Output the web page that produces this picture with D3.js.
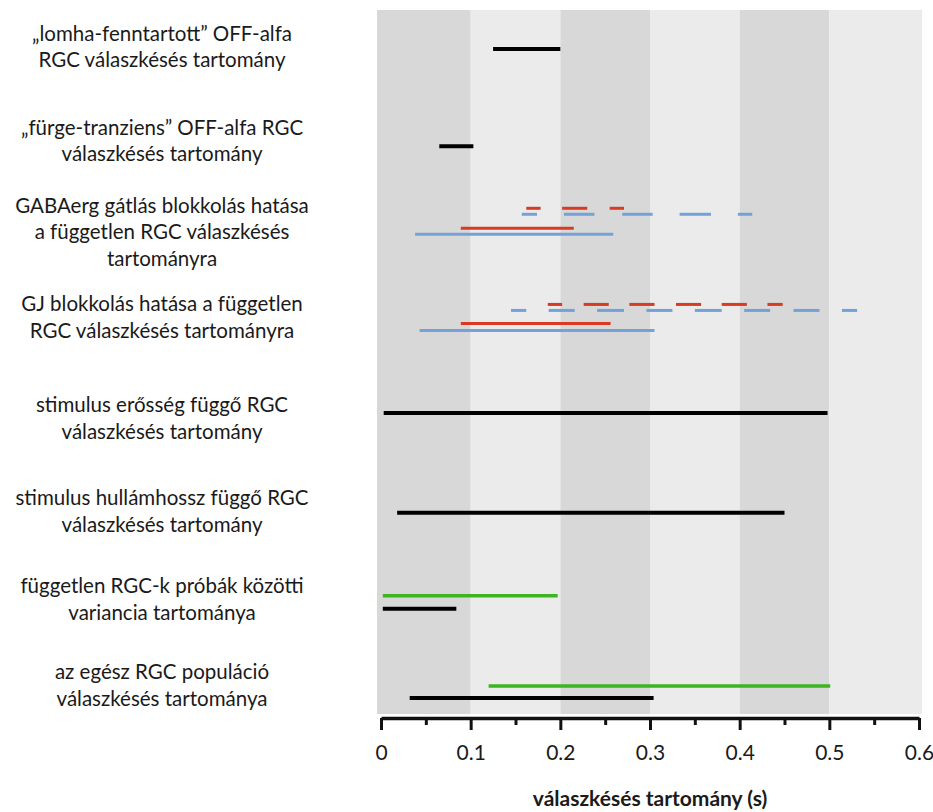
<!DOCTYPE html>
<html>
<head>
<meta charset="utf-8">
<script src="https://cdn.jsdelivr.net/npm/d3@7/dist/d3.min.js"></script>
<style>
  html, body { margin: 0; padding: 0; background: #ffffff; }
  svg { display: block; }
  text { font-family: Lato, "Open Sans", sans-serif; fill: #1a1a1a; }
</style>
</head>
<body>
<svg id="chart" width="933" height="812"></svg>
<script>
// ---------- data ----------
const categories = ["lomha", "furge", "gaba", "gj", "erosseg", "hullamhossz", "variancia", "populacio"];
const rowLabels = [
  ["„lomha-fenntartott” OFF-alfa", "RGC válaszkésés tartomány"],
  ["„fürge-tranziens” OFF-alfa RGC", "válaszkésés tartomány"],
  ["GABAerg gátlás blokkolás hatása", "a független RGC válaszkésés", "tartományra"],
  ["GJ blokkolás hatása a független", "RGC válaszkésés tartományra"],
  ["stimulus erősség függő RGC", "válaszkésés tartomány"],
  ["stimulus hullámhossz függő RGC", "válaszkésés tartomány"],
  ["független RGC-k próbák közötti", "variancia tartománya"],
  ["az egész RGC populáció", "válaszkésés tartománya"]
];
// [category, start, end] in seconds
const blackRanges = [
  ["lomha", 0.125, 0.200],
  ["furge", 0.065, 0.103],
  ["erosseg", 0.003, 0.498],
  ["hullamhossz", 0.018, 0.450],
  ["variancia", 0.002, 0.084],
  ["populacio", 0.032, 0.304]
];
const greenRanges = [
  ["variancia", 0.002, 0.197],
  ["populacio", 0.120, 0.501]
];
const redRanges = [
  ["gaba", 0.089, 0.215],
  ["gj", 0.089, 0.256]
];
const blueRanges = [
  ["gaba", 0.038, 0.259],
  ["gj", 0.043, 0.305]
];
const redDashes = [
  ["gaba", 0.162, 0.178], ["gaba", 0.202, 0.230], ["gaba", 0.255, 0.271],
  ["gj", 0.186, 0.202], ["gj", 0.226, 0.254], ["gj", 0.277, 0.305],
  ["gj", 0.329, 0.357], ["gj", 0.380, 0.408], ["gj", 0.431, 0.448]
];
const blueDashes = [
  ["gaba", 0.157, 0.174], ["gaba", 0.204, 0.238], ["gaba", 0.269, 0.303],
  ["gaba", 0.333, 0.368], ["gaba", 0.398, 0.414],
  ["gj", 0.145, 0.162], ["gj", 0.187, 0.216], ["gj", 0.241, 0.271],
  ["gj", 0.296, 0.325], ["gj", 0.350, 0.380], ["gj", 0.405, 0.434],
  ["gj", 0.460, 0.489], ["gj", 0.514, 0.531]
];
const bandEdges = [0, 0.1, 0.2, 0.3, 0.4, 0.5, 0.6];
const majorTicks = [0, 0.1, 0.2, 0.3, 0.4, 0.5, 0.6];
const minorTicks = [0.05, 0.15, 0.25, 0.35, 0.45, 0.55];
const xTitle = "válaszkésés tartomány (s)";

// ---------- layout ----------
const svg = d3.select("#chart");
const plotTop = 10, plotBottom = 714, axisY = 718;
const x = d3.scaleLinear().domain([0, 0.6]).range([381, 919]);
const y = d3.scalePoint().domain(categories).range([47, 685]);
const labelX = 162;
const lineGap = 26.5;

// per-row label shift (layout styling)
const labelShift = { lomha: -1, furge: 2, gaba: 2, gj: -4, erosseg: 6, hullamhossz: 8, variancia: 4.5, populacio: -0.5 };
// per-row lane offsets for multi-series rows
const laneOffset = {
  black: { lomha: 2, furge: 8, erosseg: 1.5, hullamhossz: 10, variancia: 15, populacio: 13 },
  green: { variancia: 2, populacio: 1 },
  redDash: { gaba: -21, gj: -16 },
  blueDash: { gaba: -15, gj: -10 },
  red: { gaba: -1, gj: 3 },
  blue: { gaba: 5, gj: 10 }
};

// background bands
const bands = d3.pairs(bandEdges);
svg.append("g").selectAll("rect").data(bands).join("rect")
  .attr("x", (d, i) => i === 0 ? x(d[0]) - 4 : x(d[0]))
  .attr("width", (d, i) => x(d[1]) - x(d[0]) + (i === 0 ? 4 : 0) + (i === bands.length - 1 ? 3 : 0))
  .attr("y", plotTop)
  .attr("height", plotBottom - plotTop)
  .attr("fill", (d, i) => i % 2 === 0 ? "#d8d8d8" : "#ebebeb");

// row labels
const lab = svg.append("g");
rowLabels.forEach((lines, i) => {
  const c = categories[i];
  const cy = y(c) + labelShift[c];
  const n = lines.length;
  lines.forEach((t, j) => {
    lab.append("text")
      .attr("x", labelX)
      .attr("y", cy + (j - (n - 1) / 2) * lineGap)
      .attr("text-anchor", "middle")
      .attr("dominant-baseline", "central")
      .style("font-size", "20.5px")
      .text(t);
  });
});

function drawSegs(data, key, color, width) {
  svg.append("g").selectAll("line").data(data).join("line")
    .attr("x1", d => x(d[1]))
    .attr("x2", d => x(d[2]))
    .attr("y1", d => y(d[0]) + laneOffset[key][d[0]])
    .attr("y2", d => y(d[0]) + laneOffset[key][d[0]])
    .attr("stroke", color)
    .attr("stroke-width", width)
    .attr("stroke-linecap", "butt");
}
drawSegs(blackRanges, "black", "#000000", 4);
drawSegs(greenRanges, "green", "#3cb521", 3.5);
drawSegs(redDashes, "redDash", "#d93a22", 3);
drawSegs(blueDashes, "blueDash", "#74a2d8", 3);
drawSegs(redRanges, "red", "#d93a22", 3);
drawSegs(blueRanges, "blue", "#74a2d8", 3);

// axis
const axis = d3.axisBottom(x)
  .tickValues(majorTicks)
  .tickSize(12)
  .tickSizeOuter(0)
  .tickPadding(15)
  .tickFormat(d => d === 0 ? "0" : d3.format(".1f")(d));
const ag = svg.append("g").attr("transform", `translate(0,${axisY})`).call(axis);
ag.select(".domain").attr("stroke", "#111").attr("stroke-width", 3.5);
ag.selectAll(".tick line").attr("stroke", "#111").attr("stroke-width", 3);
ag.selectAll(".tick text")
  .style("font-family", "Lato, 'Open Sans', sans-serif")
  .style("font-size", "21px")
  .attr("fill", "#1a1a1a");

const minor = d3.axisBottom(x).tickValues(minorTicks).tickSize(7).tickFormat("");
const mg = svg.append("g").attr("transform", `translate(0,${axisY})`).call(minor);
mg.select(".domain").remove();
mg.selectAll(".tick line").attr("stroke", "#111").attr("stroke-width", 3);

svg.append("text")
  .attr("x", (x(0) + x(0.6)) / 2)
  .attr("y", 797)
  .attr("text-anchor", "middle")
  .attr("dominant-baseline", "central")
  .style("font-size", "21px")
  .style("font-weight", "bold")
  .text(xTitle);
</script>
</body>
</html>
